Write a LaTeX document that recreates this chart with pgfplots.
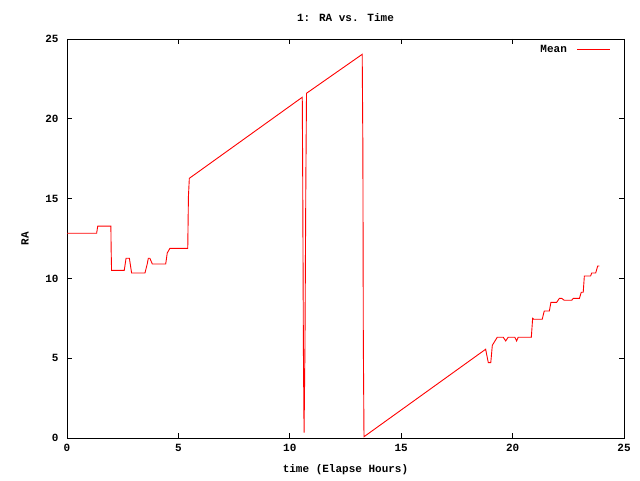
\documentclass[border=0pt]{standalone}
\usepackage{pgfplots}
\pgfplotsset{compat=1.18}
\usepackage{fontspec}
\setmainfont{Liberation Mono}
\newcommand{\gf}{\fontsize{11}{12}\selectfont\bfseries}
\begin{document}
\begin{tikzpicture}[x=1pt,y=1pt,font=\gf]
\path[use as bounding box] (0,0) rectangle (640,480);
\begin{axis}[
  at={(67pt,42pt)}, anchor=south west,
  scale only axis, width=557pt, height=399pt,
  xmin=0, xmax=25, ymin=0, ymax=25,
  xtick={0,5,...,25}, ytick={0,5,...,25},
  tick align=inside, major tick length=5pt,
  /pgf/number format/assume math mode=true,
  ticklabel style={font=\gf},
  xticklabel style={yshift=-3pt},
  yticklabel style={xshift=-5pt},
  axis line style={black, line width=0.8pt},
  tick style={black, line width=0.8pt},
  title={1: RA vs. Time},
  xlabel={time (Elapse Hours)},
  ylabel={RA},
  every axis title/.style={at={(axis description cs:0.5,1.0526)}, anchor=center, font=\gf},
  every axis x label/.style={at={(axis description cs:0.5,-0.080)}, anchor=center, font=\gf},
  every axis y label/.style={at={(axis description cs:-0.0754,0.5)}, rotate=90, anchor=center, font=\gf},
  legend style={draw=none, fill=none, at={(rel axis cs:1,1)}, anchor=north east, xshift=-13pt, yshift=-4pt, font=\gf, inner sep=0pt},
  legend cell align=right,
  legend plot pos=right,
  legend image code/.code={\path (0pt,0pt); \draw[red, line width=0.9pt] (8pt,0pt) -- (41pt,0pt);},
]
\addplot[red, line width=0.9pt, mark=none] coordinates {
(0,12.83) (1.33,12.83) (1.38,13.28) (1.97,13.28) (1.98,11.9) (2.0,10.5) (2.57,10.5) (2.65,11.26) (2.8,11.26) (2.86,10.7) (2.9,10.34) (3.5,10.34) (3.6,10.9) (3.65,11.26) (3.72,11.26) (3.83,10.9) (4.43,10.9) (4.5,11.6) (4.62,11.88) (5.42,11.88) (5.43,12.97) (5.45,15.12) (5.49,16.27)
(10.56,21.35) (10.58,16.1) (10.61,5.6) (10.64,0.33) (10.68,5.6) (10.72,16.1) (10.75,21.6)
(13.25,24.04) (13.28,18.09) (13.3,6.03) (13.33,0.08)
(18.79,5.56) (18.91,4.72) (19.02,4.72) (19.09,5.81) (19.31,6.31) (19.58,6.31) (19.69,6.08) (19.8,6.31) (20.1,6.31) (20.18,6.08) (20.25,6.31) (20.84,6.31) (20.9,7.5) (20.95,7.44) (21.33,7.44) (21.42,7.96) (21.65,7.96) (21.72,8.5) (21.98,8.5) (22.1,8.75) (22.2,8.75) (22.32,8.63) (22.65,8.63) (22.73,8.75) (23.0,8.75) (23.08,9.13) (23.17,9.13) (23.22,10.15) (23.5,10.15) (23.55,10.34) (23.73,10.34) (23.82,10.78) (23.89,10.78)
};
\addlegendentry{Mean}
\end{axis}
\end{tikzpicture}
\end{document}
